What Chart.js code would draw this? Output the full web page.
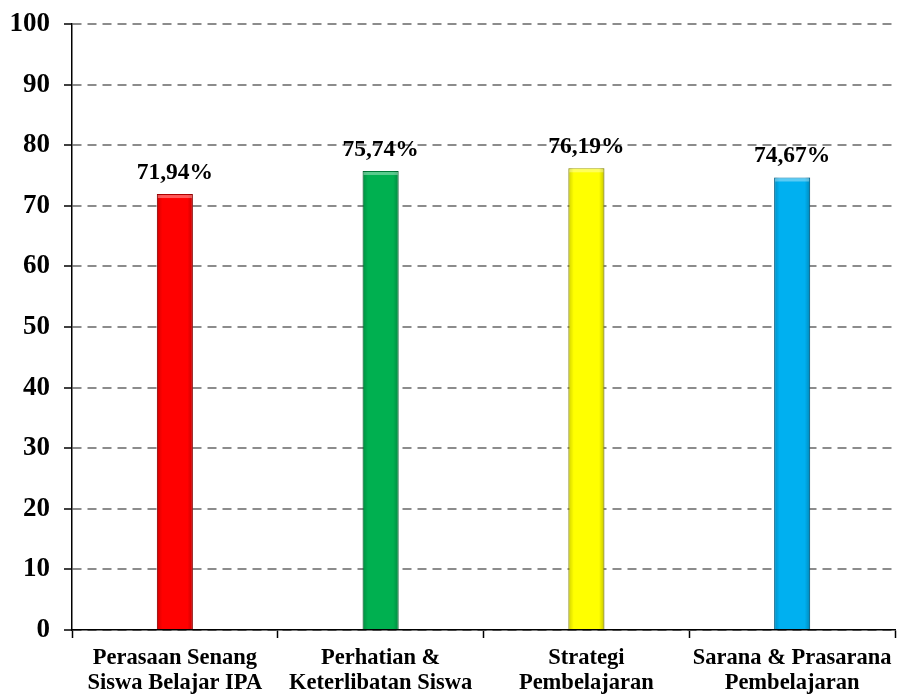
<!DOCTYPE html>
<html>
<head>
<meta charset="utf-8">
<script src="https://cdn.jsdelivr.net/npm/chart.js@4.4.1/dist/chart.umd.min.js"></script>
<style>
  html, body { margin: 0; padding: 0; background: #fff; }
  #wrap { width: 897px; height: 694px; }
</style>
</head>
<body>
<div id="wrap"><canvas id="chart"></canvas></div>
<script>
// data
const categories = [
  ['Perasaan Senang', 'Siswa Belajar IPA'],
  ['Perhatian &', 'Keterlibatan Siswa'],
  ['Strategi', 'Pembelajaran'],
  ['Sarana & Prasarana', 'Pembelajaran']
];
const values = [71.94, 75.74, 76.19, 74.67];
const valueLabels = ['71,94%', '75,74%', '76,19%', '74,67%'];
const barColors = ['#ff0000', '#00b050', '#ffff00', '#00b0f0'];
const barEdges = ['#b00000', '#007a38', '#a8a800', '#0078a8'];

const serif = "'Liberation Serif', 'Times New Roman', serif";

// label di atas batang
const valueLabelPlugin = {
  id: 'valueLabels',
  afterDatasetsDraw(chart) {
    const ctx = chart.ctx;
    const meta = chart.getDatasetMeta(0);
    ctx.save();
    meta.data.forEach((bar, i) => {
      // efek bayangan di sisi batang
      const g = ctx.createLinearGradient(bar.x - bar.width / 2, 0, bar.x + bar.width / 2, 0);
      g.addColorStop(0, 'rgba(0,0,0,0.18)');
      g.addColorStop(0.15, 'rgba(0,0,0,0)');
      g.addColorStop(0.85, 'rgba(0,0,0,0)');
      g.addColorStop(1, 'rgba(0,0,0,0.22)');
      ctx.fillStyle = g;
      ctx.fillRect(bar.x - bar.width / 2, bar.y, bar.width, bar.base - bar.y);
      ctx.fillStyle = 'rgba(255,255,255,0.35)';
      ctx.fillRect(bar.x - bar.width / 2 + 1, bar.y + 1, bar.width - 2, 3);

      ctx.fillStyle = '#000';
      ctx.font = 'bold 23.5px ' + serif;
      ctx.textAlign = 'center';
      ctx.textBaseline = 'alphabetic';
      ctx.fillText(valueLabels[i], bar.x, bar.y - 15);
    });
    ctx.restore();
  }
};

new Chart(document.getElementById('chart').getContext('2d'), {
  type: 'bar',
  data: {
    labels: categories,
    datasets: [{
      data: values,
      backgroundColor: barColors,
      borderColor: barEdges,
      borderWidth: 1,
      barPercentage: 0.7,
      categoryPercentage: 0.25
    }]
  },
  options: {
    responsive: true,
    maintainAspectRatio: false,
    animation: false,
    layout: { padding: { top: 0, right: 2, left: 0, bottom: 0 } },
    plugins: {
      legend: { display: false },
      tooltip: { enabled: false }
    },
    scales: {
      x: {
        grid: {
          offset: true,
          drawOnChartArea: false,
          tickLength: 8,
          tickColor: '#000',
          tickWidth: 1.5
        },
        border: { color: '#000', width: 1.5 },
        ticks: {
          color: '#000',
          font: { family: serif, size: 22.5, weight: 'bold', lineHeight: 1.11 },
          padding: 8,
          maxRotation: 0,
          autoSkip: false
        },
        afterFit(scale) {
          scale.height = 64;
          scale.paddingLeft = 0;
          scale.paddingRight = 0;
        }
      },
      y: {
        min: 0,
        max: 100,
        grid: {
          color: '#8c8c8c',
          lineWidth: 2,
          tickLength: 8,
          tickColor: '#000',
          tickWidth: 1.5,
          tickBorderDash: []
        },
        border: { color: '#000', width: 1.5, dash: [9, 6] },
        ticks: {
          stepSize: 10,
          color: '#000',
          font: { family: serif, size: 27, weight: 'bold', lineHeight: 1 },
          padding: 14
        },
        afterFit(scale) {
          scale.width = 72;
          scale.paddingTop = 24;
          scale.paddingBottom = 0;
        }
      }
    }
  },
  plugins: [valueLabelPlugin]
});
</script>
</body>
</html>
